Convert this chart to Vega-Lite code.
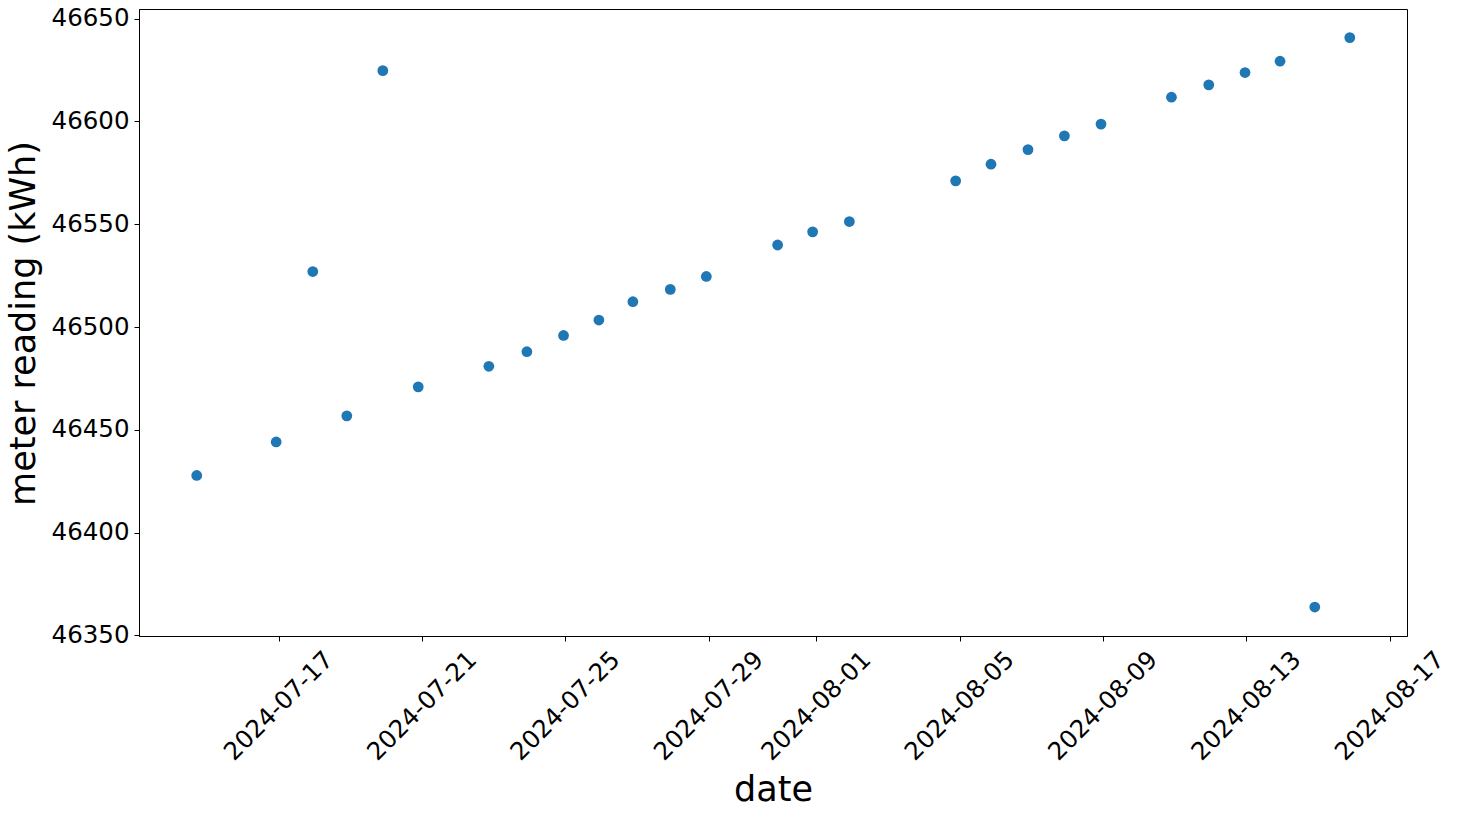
{
  "$schema": "https://vega.github.io/schema/vega-lite/v6.json",
  "autosize": {"type": "none"},
  "padding": {"left": 139, "top": 9, "right": 53, "bottom": 181},
  "width": 1268,
  "height": 627,
  "background": "white",
  "config": {
    "font": "DejaVu Sans",
    "view": {"stroke": "black", "strokeWidth": 1},
    "axis": {
      "domainColor": "black",
      "tickColor": "black",
      "tickSize": 5,
      "labelColor": "black",
      "titleColor": "black",
      "labelFont": "DejaVu Sans",
      "titleFont": "DejaVu Sans",
      "labelFontSize": 24.5,
      "titleFontSize": 35,
      "titleFontWeight": "normal",
      "grid": false
    }
  },
  "data": {
    "values": [
      {"date": "2024-07-14T17:04:00", "reading": 46427.8},
      {"date": "2024-07-16T22:15:00", "reading": 46444.1},
      {"date": "2024-07-17T22:47:00", "reading": 46527.0},
      {"date": "2024-07-18T21:33:00", "reading": 46456.8},
      {"date": "2024-07-19T21:40:00", "reading": 46624.7},
      {"date": "2024-07-20T21:23:00", "reading": 46470.9},
      {"date": "2024-07-22T20:40:00", "reading": 46480.9},
      {"date": "2024-07-23T22:08:00", "reading": 46488.0},
      {"date": "2024-07-24T22:42:00", "reading": 46495.9},
      {"date": "2024-07-25T22:21:00", "reading": 46503.4},
      {"date": "2024-07-26T21:07:00", "reading": 46512.3},
      {"date": "2024-07-27T22:10:00", "reading": 46518.3},
      {"date": "2024-07-28T22:18:00", "reading": 46524.6},
      {"date": "2024-07-30T22:02:00", "reading": 46539.9},
      {"date": "2024-07-31T21:29:00", "reading": 46546.3},
      {"date": "2024-08-01T22:05:00", "reading": 46551.3},
      {"date": "2024-08-04T21:16:00", "reading": 46571.1},
      {"date": "2024-08-05T20:56:00", "reading": 46579.2},
      {"date": "2024-08-06T21:42:00", "reading": 46586.3},
      {"date": "2024-08-07T22:05:00", "reading": 46593.0},
      {"date": "2024-08-08T22:36:00", "reading": 46598.7},
      {"date": "2024-08-10T21:46:00", "reading": 46611.8},
      {"date": "2024-08-11T22:45:00", "reading": 46617.8},
      {"date": "2024-08-12T23:02:00", "reading": 46623.8},
      {"date": "2024-08-13T22:29:00", "reading": 46629.3},
      {"date": "2024-08-14T21:45:00", "reading": 46363.8},
      {"date": "2024-08-15T21:12:00", "reading": 46640.8}
    ]
  },
  "mark": {"type": "circle", "size": 116, "color": "#1f77b4", "opacity": 1},
  "encoding": {
    "x": {
      "field": "date",
      "type": "temporal",
      "scale": {
        "domain": [
          {"year": 2024, "month": 7, "date": 13, "hours": 2, "minutes": 24},
          {"year": 2024, "month": 8, "date": 17, "hours": 11, "minutes": 30}
        ],
        "nice": false
      },
      "axis": {
        "title": "date",
        "values": [
          {"year": 2024, "month": 7, "date": 17},
          {"year": 2024, "month": 7, "date": 21},
          {"year": 2024, "month": 7, "date": 25},
          {"year": 2024, "month": 7, "date": 29},
          {"year": 2024, "month": 8, "date": 1},
          {"year": 2024, "month": 8, "date": 5},
          {"year": 2024, "month": 8, "date": 9},
          {"year": 2024, "month": 8, "date": 13},
          {"year": 2024, "month": 8, "date": 17}
        ],
        "format": "%Y-%m-%d",
        "labelAngle": -45,
        "labelAlign": "center",
        "labelBaseline": "middle",
        "labelPadding": 65,
        "labelOverlap": false,
        "labelFlush": false,
        "titleX": 634,
        "titleY": 164,
        "titleAlign": "center",
        "titleBaseline": "alphabetic"
      }
    },
    "y": {
      "field": "reading",
      "type": "quantitative",
      "scale": {"domain": [46349.7, 46654.7], "nice": false, "zero": false},
      "axis": {
        "title": "meter reading (kWh)",
        "values": [46350, 46400, 46450, 46500, 46550, 46600, 46650],
        "format": "d",
        "labelPadding": 5,
        "labelOverlap": false,
        "labelFlush": false,
        "titleAngle": -90,
        "titleX": -105,
        "titleY": 314,
        "titleAlign": "center",
        "titleBaseline": "alphabetic"
      }
    }
  }
}
